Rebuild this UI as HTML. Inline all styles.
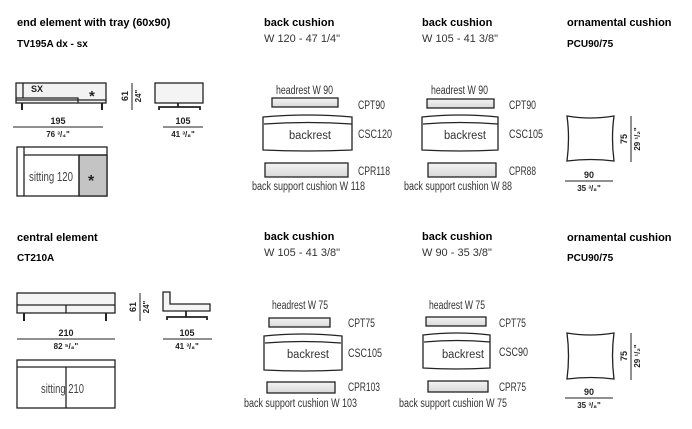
<!DOCTYPE html><html><head><style>body{margin:0;background:#fff}svg{display:block}</style></head><body>
<svg width="692" height="429" viewBox="0 0 692 429" xmlns="http://www.w3.org/2000/svg" font-family="Liberation Sans, sans-serif">
<defs>
<linearGradient id="g" x1="0" x2="0" y1="0" y2="1"><stop offset="0" stop-color="#f4f4f4"/><stop offset="1" stop-color="#d8d8d8"/></linearGradient>
</defs>
<g fill="#000" font-weight="bold" font-size="11">
<text x="17" y="26">end element with tray (60x90)</text>
<text x="17" y="47" font-size="10">TV195A dx - sx</text>
<text x="264" y="26">back cushion</text>
<text x="422" y="26">back cushion</text>
<text x="567" y="26">ornamental cushion</text>
<text x="567" y="47" font-size="10">PCU90/75</text>
<text x="17" y="241">central element</text>
<text x="17" y="261" font-size="10">CT210A</text>
<text x="264" y="240">back cushion</text>
<text x="422" y="240">back cushion</text>
<text x="567" y="241">ornamental cushion</text>
<text x="567" y="261" font-size="10">PCU90/75</text>
</g>
<g fill="#333" font-size="11">
<text x="264" y="42">W 120 - 47 1/4"</text>
<text x="422" y="42">W 105 - 41 3/8"</text>
<text x="264" y="256">W 105 - 41 3/8"</text>
<text x="422" y="256">W 90 - 35 3/8"</text>
</g>
<g stroke="#222" stroke-width="1.3" fill="none">
<rect x="16" y="83" width="90" height="20" fill="#f2f2f2"/>
<path d="M23 83V98H78V103M16 98H23" />
<line x1="16" y1="100" x2="106" y2="100"/>
<path d="M22 103v7M102 103v7" stroke-width="2"/>
<line x1="132" y1="83" x2="132" y2="110" stroke-width="1"/>
<rect x="155" y="83" width="48" height="20" fill="#f4f4f4"/>
<path d="M159 110v-3h41v3M178 103v4" stroke-width="1.8"/>
<line x1="13" y1="127" x2="103" y2="127" stroke-width="1"/>
<line x1="163" y1="127" x2="203" y2="127" stroke-width="1"/>
<rect x="17" y="147" width="90" height="49"/>
<rect x="79" y="155" width="28" height="41" fill="#c4c4c4"/>
<path d="M24 147V196M24 155H107M79 155V196"/>
<rect x="17" y="293" width="98" height="20" fill="#f4f4f4"/>
<path d="M17 305H115M66 305V313"/>
<path d="M24 313v8M106 313v8" stroke-width="2"/>
<line x1="140" y1="293" x2="140" y2="321" stroke-width="1"/>
<path d="M163 292h7v12h40v7h-47z" fill="#f4f4f4"/>
<path d="M167 320v-3h40v3M186 311v6" stroke-width="1.8"/>
<line x1="17" y1="339" x2="115" y2="339" stroke-width="1"/>
<line x1="163" y1="339" x2="212" y2="339" stroke-width="1"/>
<rect x="17" y="360" width="98" height="48"/>
<path d="M17 367H115M66 367V408"/>
<rect x="272" y="98" width="66" height="9" fill="url(#g)"/>
<path d="M263 117q45-4 89 0v33q-45 2-89 0z"/>
<path d="M264 124q44-3 88 0"/>
<rect x="265" y="163" width="83" height="14" fill="url(#g)"/>
<rect x="427" y="99" width="67" height="9" fill="url(#g)"/>
<path d="M422 117q38-4 76 0v33q-38 2-76 0z"/>
<path d="M423 124q37-3 75 0"/>
<rect x="428" y="163" width="68" height="14" fill="url(#g)"/>
<rect x="269" y="318" width="61" height="9" fill="url(#g)"/>
<path d="M264 336q39-4 78 0v34q-39 2-78 0z"/>
<path d="M265 343q38-3 76 0"/>
<rect x="267" y="382" width="68" height="11" fill="url(#g)"/>
<rect x="426" y="317" width="60" height="9" fill="url(#g)"/>
<path d="M423 335q34-4 67 0v33q-34 2-67 0z"/>
<path d="M424 342q33-3 66 0"/>
<rect x="428" y="381" width="60" height="11" fill="url(#g)"/>
<path d="M567 116q23 4 47 0q-3 22 0 45q-23-3-47 0q3-23 0-45z"/>
<line x1="631" y1="116" x2="631" y2="162" stroke-width="1"/>
<line x1="565" y1="181" x2="613" y2="181" stroke-width="1"/>
<path d="M567 333q23 4 47 0q-3 22 0 46q-23-3-47 0q3-23 0-46z"/>
<line x1="631" y1="333" x2="631" y2="380" stroke-width="1"/>
<line x1="565" y1="398" x2="613" y2="398" stroke-width="1"/>
</g>
<g fill="#222" font-size="10">
<text x="31" y="92" font-size="9" font-weight="bold">SX</text>
<text x="89" y="101" font-size="15" font-weight="bold">*</text>
<text x="88" y="186" font-size="16" font-weight="bold">*</text>
<text x="29" y="181" font-size="12.5" fill="#444" textLength="44" lengthAdjust="spacingAndGlyphs">sitting 120</text>
<text x="41" y="393" font-size="12.5" fill="#444" textLength="43" lengthAdjust="spacingAndGlyphs">sitting 210</text>
<g font-weight="bold" font-size="9" text-anchor="middle">
<text x="58" y="124">195</text><text x="58" y="137" font-size="8">76 ³/₄"</text>
<text x="183" y="124">105</text><text x="183" y="137" font-size="8">41 ³/₈"</text>
<text x="66" y="336">210</text><text x="66" y="349" font-size="8">82 ⁵/₈"</text>
<text x="187" y="336">105</text><text x="187" y="349" font-size="8">41 ³/₈"</text>
<text x="589" y="178">90</text><text x="589" y="191" font-size="8">35 ³/₈"</text>
<text x="589" y="395">90</text><text x="589" y="408" font-size="8">35 ³/₈"</text>
<text transform="translate(128,96) rotate(-90)">61</text>
<text transform="translate(141,96) rotate(-90)" font-size="8">24"</text>
<text transform="translate(136,307) rotate(-90)">61</text>
<text transform="translate(149,307) rotate(-90)" font-size="8">24"</text>
<text transform="translate(627,139) rotate(-90)">75</text>
<text transform="translate(640,139) rotate(-90)" font-size="8">29 ¹/₂"</text>
<text transform="translate(627,356) rotate(-90)">75</text>
<text transform="translate(640,356) rotate(-90)" font-size="8">29 ¹/₂"</text>
</g>
<g font-size="11.5" fill="#333">
<text x="276" y="94" textLength="57" lengthAdjust="spacingAndGlyphs">headrest W 90</text><text x="431" y="94" textLength="57" lengthAdjust="spacingAndGlyphs">headrest W 90</text>
<text x="358" y="109" textLength="27" lengthAdjust="spacingAndGlyphs">CPT90</text><text x="509" y="109" textLength="27" lengthAdjust="spacingAndGlyphs">CPT90</text>
<text x="358" y="138" textLength="34" lengthAdjust="spacingAndGlyphs">CSC120</text><text x="509" y="138" textLength="34" lengthAdjust="spacingAndGlyphs">CSC105</text>
<text x="358" y="175" textLength="32" lengthAdjust="spacingAndGlyphs">CPR118</text><text x="509" y="175" textLength="27" lengthAdjust="spacingAndGlyphs">CPR88</text>
<text x="289" y="139" textLength="42" lengthAdjust="spacingAndGlyphs">backrest</text><text x="444" y="139" textLength="42" lengthAdjust="spacingAndGlyphs">backrest</text>
<text x="252" y="190" textLength="113" lengthAdjust="spacingAndGlyphs">back support cushion W 118</text><text x="404" y="190" textLength="108" lengthAdjust="spacingAndGlyphs">back support cushion W 88</text>
<text x="272" y="309" textLength="56" lengthAdjust="spacingAndGlyphs">headrest W 75</text><text x="429" y="309" textLength="56" lengthAdjust="spacingAndGlyphs">headrest W 75</text>
<text x="348" y="327" textLength="27" lengthAdjust="spacingAndGlyphs">CPT75</text><text x="499" y="327" textLength="27" lengthAdjust="spacingAndGlyphs">CPT75</text>
<text x="348" y="357" textLength="34" lengthAdjust="spacingAndGlyphs">CSC105</text><text x="499" y="356" textLength="29" lengthAdjust="spacingAndGlyphs">CSC90</text>
<text x="348" y="391" textLength="32" lengthAdjust="spacingAndGlyphs">CPR103</text><text x="499" y="391" textLength="27" lengthAdjust="spacingAndGlyphs">CPR75</text>
<text x="287" y="358" textLength="42" lengthAdjust="spacingAndGlyphs">backrest</text><text x="442" y="358" textLength="42" lengthAdjust="spacingAndGlyphs">backrest</text>
<text x="244" y="407" textLength="113" lengthAdjust="spacingAndGlyphs">back support cushion W 103</text><text x="399" y="407" textLength="108" lengthAdjust="spacingAndGlyphs">back support cushion W 75</text>
</g>
</g>
</svg>
</body></html>
